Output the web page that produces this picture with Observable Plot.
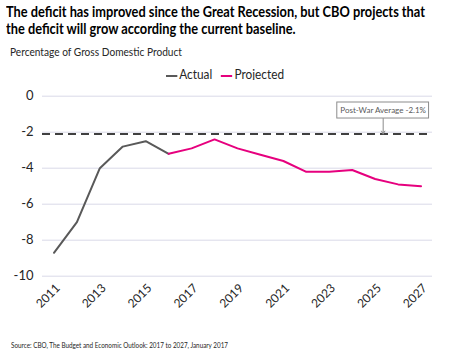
<!DOCTYPE html>
<html><head><meta charset="utf-8">
<script src="https://cdn.jsdelivr.net/npm/d3@7"></script>
<script src="https://cdn.jsdelivr.net/npm/@observablehq/plot@0.6"></script>
<style>
body{margin:0;background:#fff;font-family:Lato,"Open Sans",sans-serif;}
#wrap{position:relative;width:454px;height:354px;overflow:hidden;}
.t{position:absolute;white-space:nowrap;color:#000;transform-origin:0 50%;}
.title{left:6px;font-weight:bold;font-size:15.5px;}
#t1{top:2px;}
#t2{top:19px;}
#sub{left:10px;top:45px;font-size:11.5px;color:#262626;}
#legend{left:166px;top:67px;font-size:12.5px;color:#262626;}
#legend span.sw{display:inline-block;width:12px;height:2px;vertical-align:middle;margin-right:2px;}
#src{left:11px;top:341px;font-size:7.5px;color:#262626;}
#chart{position:absolute;left:0;top:80px;}
</style></head>
<body><div id="wrap">
<div id="t1" class="t title">The deficit has improved since the Great Recession, but CBO projects that</div>
<div id="t2" class="t title">the deficit will grow according the current baseline.</div>
<div id="sub" class="t">Percentage of Gross Domestic Product</div>
<div id="legend" class="t"><span class="sw" style="background:#595959"></span>Actual&nbsp;&nbsp;&nbsp;<span class="sw" style="background:#e6007e"></span>Projected</div>
<div id="chart"></div>
<div id="src" class="t">Source: CBO, The Budget and Economic Outlook: 2017 to 2027, January 2017</div>
</div>
<script>
const actualYears = [2011, 2012, 2013, 2014, 2015, 2016];
const actualValues = [-8.7, -7.0, -4.0, -2.8, -2.5, -3.2];
const projectedYears = [2016, 2017, 2018, 2019, 2020, 2021, 2022, 2023, 2024, 2025, 2026, 2027];
const projectedValues = [-3.2, -2.9, -2.4, -2.9, -3.25, -3.6, -4.2, -4.2, -4.1, -4.6, -4.9, -5.0];
const yTicks = [0, -2, -4, -6, -8, -10];
const xTicks = [2011, 2013, 2015, 2017, 2019, 2021, 2023, 2025, 2027];
const postWarAverage = -2.1;
const annotationLabel = "Post-War Average -2.1%";

// squeeze text horizontally to the reference widths (narrow Calibri-like look)
function fit(id, w) {
  const el = document.getElementById(id);
  const cw = el.getBoundingClientRect().width;
  el.style.transform = "scaleX(" + (w / cw) + ")";
  return w / cw;
}
const s1 = fit("t1", 419);
document.getElementById("t2").style.transform = "scaleX(" + s1 + ")";
fit("sub", 172);
fit("legend", 118);
fit("src", 217);

const actual = actualYears.map((y, i) => ({year: y, value: actualValues[i]}));
const projected = projectedYears.map((y, i) => ({year: y, value: projectedValues[i]}));

const boxYear = 2025.35, boxTop = -0.35, boxBottom = -1.24;

const chart = Plot.plot({
  width: 454,
  height: 260,
  marginLeft: 42,
  marginRight: 22,
  marginTop: 15.7,
  marginBottom: 64.3,
  style: {fontFamily: "Lato, 'Open Sans', sans-serif", fontSize: "13px", color: "#262626", background: "white"},
  x: {domain: [2010.5, 2027.5], label: null},
  y: {domain: [-10, 0], label: null},
  marks: [
    Plot.ruleY(yTicks, {stroke: "#d9d9e8", strokeWidth: 1}),
    Plot.axisY({ticks: yTicks, tickSize: 0, tickPadding: 9, tickFormat: d => d < 0 ? "-" + Math.abs(d) : String(d), fontSize: 13, label: null}),
    Plot.axisX({ticks: xTicks, tickSize: 0, tickRotate: -45, tickPadding: 8, dx: 4, dy: 2, tickFormat: d => String(d), fontSize: 12, label: null}),
    Plot.ruleY([postWarAverage], {stroke: "#404040", strokeWidth: 2, strokeDasharray: "8,5"}),
    Plot.line(actual, {x: "year", y: "value", stroke: "#595959", strokeWidth: 2}),
    Plot.line(projected, {x: "year", y: "value", stroke: "#e6007e", strokeWidth: 2}),
    Plot.arrow([{x: boxYear, y1: boxBottom, y2: postWarAverage}], {x: "x", y1: "y1", y2: "y2", stroke: "#8c8c8c", strokeWidth: 1, headLength: 5}),
    Plot.rect([{x1: boxYear - 2.0, x2: boxYear + 2.0, y1: boxTop, y2: boxBottom}], {x1: "x1", x2: "x2", y1: "y1", y2: "y2", fill: "white", stroke: "#8c8c8c", strokeWidth: 1}),
    Plot.text([{x: boxYear, y: (boxTop + boxBottom) / 2, t: annotationLabel}], {x: "x", y: "y", text: "t", fontSize: 8, fill: "#595959"})
  ]
});
document.getElementById("chart").appendChild(chart);
</script>
</body></html>
